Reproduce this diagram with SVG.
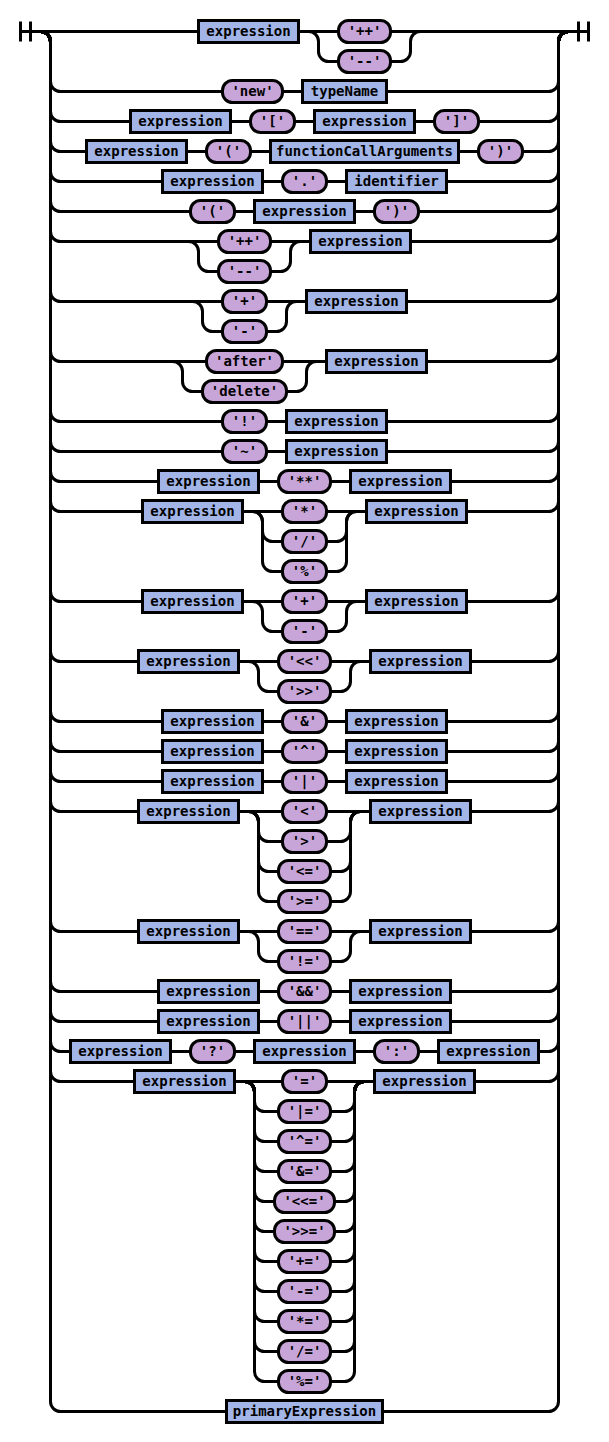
<svg xmlns="http://www.w3.org/2000/svg" width="609" height="1442" viewBox="0 0 609 1442">
<style>
path{fill:none;stroke:#000;stroke-width:3}
rect{stroke:#000;stroke-width:3}
.n rect{fill:#a2b5e6}
.t rect{fill:#c8a5d8}
text{font-family:"DejaVu Sans Mono","Liberation Mono",monospace;font-weight:bold;font-size:14px;text-anchor:middle;fill:#000}
</style>
<g transform="translate(.5 .5)">
<g id="connectors">
<path d="M20 21v20M30 21v20M20 31H588M578 21v20M588 21v20"/>
<path d="M40 31a10 10 0 0 1 10 10V81a10 10 0 0 0 10 10H548a10 10 0 0 0 10 -10V41a10 10 0 0 1 10 -10"/>
<path d="M40 31a10 10 0 0 1 10 10V111a10 10 0 0 0 10 10H548a10 10 0 0 0 10 -10V41a10 10 0 0 1 10 -10"/>
<path d="M40 31a10 10 0 0 1 10 10V141a10 10 0 0 0 10 10H548a10 10 0 0 0 10 -10V41a10 10 0 0 1 10 -10"/>
<path d="M40 31a10 10 0 0 1 10 10V171a10 10 0 0 0 10 10H548a10 10 0 0 0 10 -10V41a10 10 0 0 1 10 -10"/>
<path d="M40 31a10 10 0 0 1 10 10V201a10 10 0 0 0 10 10H548a10 10 0 0 0 10 -10V41a10 10 0 0 1 10 -10"/>
<path d="M40 31a10 10 0 0 1 10 10V231a10 10 0 0 0 10 10H548a10 10 0 0 0 10 -10V41a10 10 0 0 1 10 -10"/>
<path d="M40 31a10 10 0 0 1 10 10V291a10 10 0 0 0 10 10H548a10 10 0 0 0 10 -10V41a10 10 0 0 1 10 -10"/>
<path d="M40 31a10 10 0 0 1 10 10V351a10 10 0 0 0 10 10H548a10 10 0 0 0 10 -10V41a10 10 0 0 1 10 -10"/>
<path d="M40 31a10 10 0 0 1 10 10V411a10 10 0 0 0 10 10H548a10 10 0 0 0 10 -10V41a10 10 0 0 1 10 -10"/>
<path d="M40 31a10 10 0 0 1 10 10V441a10 10 0 0 0 10 10H548a10 10 0 0 0 10 -10V41a10 10 0 0 1 10 -10"/>
<path d="M40 31a10 10 0 0 1 10 10V471a10 10 0 0 0 10 10H548a10 10 0 0 0 10 -10V41a10 10 0 0 1 10 -10"/>
<path d="M40 31a10 10 0 0 1 10 10V501a10 10 0 0 0 10 10H548a10 10 0 0 0 10 -10V41a10 10 0 0 1 10 -10"/>
<path d="M40 31a10 10 0 0 1 10 10V591a10 10 0 0 0 10 10H548a10 10 0 0 0 10 -10V41a10 10 0 0 1 10 -10"/>
<path d="M40 31a10 10 0 0 1 10 10V651a10 10 0 0 0 10 10H548a10 10 0 0 0 10 -10V41a10 10 0 0 1 10 -10"/>
<path d="M40 31a10 10 0 0 1 10 10V711a10 10 0 0 0 10 10H548a10 10 0 0 0 10 -10V41a10 10 0 0 1 10 -10"/>
<path d="M40 31a10 10 0 0 1 10 10V741a10 10 0 0 0 10 10H548a10 10 0 0 0 10 -10V41a10 10 0 0 1 10 -10"/>
<path d="M40 31a10 10 0 0 1 10 10V771a10 10 0 0 0 10 10H548a10 10 0 0 0 10 -10V41a10 10 0 0 1 10 -10"/>
<path d="M40 31a10 10 0 0 1 10 10V801a10 10 0 0 0 10 10H548a10 10 0 0 0 10 -10V41a10 10 0 0 1 10 -10"/>
<path d="M40 31a10 10 0 0 1 10 10V921a10 10 0 0 0 10 10H548a10 10 0 0 0 10 -10V41a10 10 0 0 1 10 -10"/>
<path d="M40 31a10 10 0 0 1 10 10V981a10 10 0 0 0 10 10H548a10 10 0 0 0 10 -10V41a10 10 0 0 1 10 -10"/>
<path d="M40 31a10 10 0 0 1 10 10V1011a10 10 0 0 0 10 10H548a10 10 0 0 0 10 -10V41a10 10 0 0 1 10 -10"/>
<path d="M40 31a10 10 0 0 1 10 10V1041a10 10 0 0 0 10 10H548a10 10 0 0 0 10 -10V41a10 10 0 0 1 10 -10"/>
<path d="M40 31a10 10 0 0 1 10 10V1071a10 10 0 0 0 10 10H548a10 10 0 0 0 10 -10V41a10 10 0 0 1 10 -10"/>
<path d="M40 31a10 10 0 0 1 10 10V1401a10 10 0 0 0 10 10H548a10 10 0 0 0 10 -10V41a10 10 0 0 1 10 -10"/>
<path d="M308 31a10 10 0 0 1 10 10V51a10 10 0 0 0 10 10H400a10 10 0 0 0 10 -10V41a10 10 0 0 1 10 -10"/>
<path d="M188 241a10 10 0 0 1 10 10V261a10 10 0 0 0 10 10H280a10 10 0 0 0 10 -10V251a10 10 0 0 1 10 -10"/>
<path d="M192 301a10 10 0 0 1 10 10V321a10 10 0 0 0 10 10H276a10 10 0 0 0 10 -10V311a10 10 0 0 1 10 -10"/>
<path d="M172 361a10 10 0 0 1 10 10V381a10 10 0 0 0 10 10H296a10 10 0 0 0 10 -10V371a10 10 0 0 1 10 -10"/>
<path d="M252 511a10 10 0 0 1 10 10V531a10 10 0 0 0 10 10H336a10 10 0 0 0 10 -10V521a10 10 0 0 1 10 -10"/>
<path d="M252 511a10 10 0 0 1 10 10V561a10 10 0 0 0 10 10H336a10 10 0 0 0 10 -10V521a10 10 0 0 1 10 -10"/>
<path d="M252 601a10 10 0 0 1 10 10V621a10 10 0 0 0 10 10H336a10 10 0 0 0 10 -10V611a10 10 0 0 1 10 -10"/>
<path d="M248 661a10 10 0 0 1 10 10V681a10 10 0 0 0 10 10H340a10 10 0 0 0 10 -10V671a10 10 0 0 1 10 -10"/>
<path d="M248 811a10 10 0 0 1 10 10V831a10 10 0 0 0 10 10H340a10 10 0 0 0 10 -10V821a10 10 0 0 1 10 -10"/>
<path d="M248 811a10 10 0 0 1 10 10V861a10 10 0 0 0 10 10H340a10 10 0 0 0 10 -10V821a10 10 0 0 1 10 -10"/>
<path d="M248 811a10 10 0 0 1 10 10V891a10 10 0 0 0 10 10H340a10 10 0 0 0 10 -10V821a10 10 0 0 1 10 -10"/>
<path d="M248 931a10 10 0 0 1 10 10V951a10 10 0 0 0 10 10H340a10 10 0 0 0 10 -10V941a10 10 0 0 1 10 -10"/>
<path d="M244 1081a10 10 0 0 1 10 10V1101a10 10 0 0 0 10 10H344a10 10 0 0 0 10 -10V1091a10 10 0 0 1 10 -10"/>
<path d="M244 1081a10 10 0 0 1 10 10V1131a10 10 0 0 0 10 10H344a10 10 0 0 0 10 -10V1091a10 10 0 0 1 10 -10"/>
<path d="M244 1081a10 10 0 0 1 10 10V1161a10 10 0 0 0 10 10H344a10 10 0 0 0 10 -10V1091a10 10 0 0 1 10 -10"/>
<path d="M244 1081a10 10 0 0 1 10 10V1191a10 10 0 0 0 10 10H344a10 10 0 0 0 10 -10V1091a10 10 0 0 1 10 -10"/>
<path d="M244 1081a10 10 0 0 1 10 10V1221a10 10 0 0 0 10 10H344a10 10 0 0 0 10 -10V1091a10 10 0 0 1 10 -10"/>
<path d="M244 1081a10 10 0 0 1 10 10V1251a10 10 0 0 0 10 10H344a10 10 0 0 0 10 -10V1091a10 10 0 0 1 10 -10"/>
<path d="M244 1081a10 10 0 0 1 10 10V1281a10 10 0 0 0 10 10H344a10 10 0 0 0 10 -10V1091a10 10 0 0 1 10 -10"/>
<path d="M244 1081a10 10 0 0 1 10 10V1311a10 10 0 0 0 10 10H344a10 10 0 0 0 10 -10V1091a10 10 0 0 1 10 -10"/>
<path d="M244 1081a10 10 0 0 1 10 10V1341a10 10 0 0 0 10 10H344a10 10 0 0 0 10 -10V1091a10 10 0 0 1 10 -10"/>
<path d="M244 1081a10 10 0 0 1 10 10V1371a10 10 0 0 0 10 10H344a10 10 0 0 0 10 -10V1091a10 10 0 0 1 10 -10"/>
</g>
<g id="r1-expr" class="n"><rect x="198" y="20" width="100" height="22"/><text x="248" y="35">expression</text></g>
<g id="r1-inc" class="t"><rect x="338" y="20" width="52" height="22" rx="10"/><text x="364" y="35">'++'</text></g>
<g id="r1-dec" class="t"><rect x="338" y="50" width="52" height="22" rx="10"/><text x="364" y="65">'--'</text></g>
<g id="r2-new" class="t"><rect x="222" y="80" width="60" height="22" rx="10"/><text x="252" y="95">'new'</text></g>
<g id="r2-typeName" class="n"><rect x="302" y="80" width="84" height="22"/><text x="344" y="95">typeName</text></g>
<g id="r3-expr1" class="n"><rect x="130" y="110" width="100" height="22"/><text x="180" y="125">expression</text></g>
<g id="r3-lbr" class="t"><rect x="250" y="110" width="44" height="22" rx="10"/><text x="272" y="125">'['</text></g>
<g id="r3-expr2" class="n"><rect x="314" y="110" width="100" height="22"/><text x="364" y="125">expression</text></g>
<g id="r3-rbr" class="t"><rect x="434" y="110" width="44" height="22" rx="10"/><text x="456" y="125">']'</text></g>
<g id="r4-expr" class="n"><rect x="86" y="140" width="100" height="22"/><text x="136" y="155">expression</text></g>
<g id="r4-lp" class="t"><rect x="206" y="140" width="44" height="22" rx="10"/><text x="228" y="155">'('</text></g>
<g id="r4-args" class="n"><rect x="270" y="140" width="188" height="22"/><text x="364" y="155">functionCallArguments</text></g>
<g id="r4-rp" class="t"><rect x="478" y="140" width="44" height="22" rx="10"/><text x="500" y="155">')'</text></g>
<g id="r5-expr" class="n"><rect x="162" y="170" width="100" height="22"/><text x="212" y="185">expression</text></g>
<g id="r5-dot" class="t"><rect x="282" y="170" width="44" height="22" rx="10"/><text x="304" y="185">'.'</text></g>
<g id="r5-id" class="n"><rect x="346" y="170" width="100" height="22"/><text x="396" y="185">identifier</text></g>
<g id="r6-lp" class="t"><rect x="190" y="200" width="44" height="22" rx="10"/><text x="212" y="215">'('</text></g>
<g id="r6-expr" class="n"><rect x="254" y="200" width="100" height="22"/><text x="304" y="215">expression</text></g>
<g id="r6-rp" class="t"><rect x="374" y="200" width="44" height="22" rx="10"/><text x="396" y="215">')'</text></g>
<g id="r7-inc" class="t"><rect x="218" y="230" width="52" height="22" rx="10"/><text x="244" y="245">'++'</text></g>
<g id="r7-dec" class="t"><rect x="218" y="260" width="52" height="22" rx="10"/><text x="244" y="275">'--'</text></g>
<g id="r7-expr" class="n"><rect x="310" y="230" width="100" height="22"/><text x="360" y="245">expression</text></g>
<g id="r8-plus" class="t"><rect x="222" y="290" width="44" height="22" rx="10"/><text x="244" y="305">'+'</text></g>
<g id="r8-minus" class="t"><rect x="222" y="320" width="44" height="22" rx="10"/><text x="244" y="335">'-'</text></g>
<g id="r8-expr" class="n"><rect x="306" y="290" width="100" height="22"/><text x="356" y="305">expression</text></g>
<g id="r9-after" class="t"><rect x="206" y="350" width="76" height="22" rx="10"/><text x="244" y="365">'after'</text></g>
<g id="r9-delete" class="t"><rect x="202" y="380" width="84" height="22" rx="10"/><text x="244" y="395">'delete'</text></g>
<g id="r9-expr" class="n"><rect x="326" y="350" width="100" height="22"/><text x="376" y="365">expression</text></g>
<g id="r10-not" class="t"><rect x="222" y="410" width="44" height="22" rx="10"/><text x="244" y="425">'!'</text></g>
<g id="r10-expr" class="n"><rect x="286" y="410" width="100" height="22"/><text x="336" y="425">expression</text></g>
<g id="r11-tilde" class="t"><rect x="222" y="440" width="44" height="22" rx="10"/><text x="244" y="455">'~'</text></g>
<g id="r11-expr" class="n"><rect x="286" y="440" width="100" height="22"/><text x="336" y="455">expression</text></g>
<g id="r12-expr1" class="n"><rect x="158" y="470" width="100" height="22"/><text x="208" y="485">expression</text></g>
<g id="r12-pow" class="t"><rect x="278" y="470" width="52" height="22" rx="10"/><text x="304" y="485">'**'</text></g>
<g id="r12-expr2" class="n"><rect x="350" y="470" width="100" height="22"/><text x="400" y="485">expression</text></g>
<g id="r13-expr1" class="n"><rect x="142" y="500" width="100" height="22"/><text x="192" y="515">expression</text></g>
<g id="r13-mul" class="t"><rect x="282" y="500" width="44" height="22" rx="10"/><text x="304" y="515">'*'</text></g>
<g id="r13-div" class="t"><rect x="282" y="530" width="44" height="22" rx="10"/><text x="304" y="545">'/'</text></g>
<g id="r13-mod" class="t"><rect x="282" y="560" width="44" height="22" rx="10"/><text x="304" y="575">'%'</text></g>
<g id="r13-expr2" class="n"><rect x="366" y="500" width="100" height="22"/><text x="416" y="515">expression</text></g>
<g id="r14-expr1" class="n"><rect x="142" y="590" width="100" height="22"/><text x="192" y="605">expression</text></g>
<g id="r14-plus" class="t"><rect x="282" y="590" width="44" height="22" rx="10"/><text x="304" y="605">'+'</text></g>
<g id="r14-minus" class="t"><rect x="282" y="620" width="44" height="22" rx="10"/><text x="304" y="635">'-'</text></g>
<g id="r14-expr2" class="n"><rect x="366" y="590" width="100" height="22"/><text x="416" y="605">expression</text></g>
<g id="r15-expr1" class="n"><rect x="138" y="650" width="100" height="22"/><text x="188" y="665">expression</text></g>
<g id="r15-shl" class="t"><rect x="278" y="650" width="52" height="22" rx="10"/><text x="304" y="665">'&lt;&lt;'</text></g>
<g id="r15-shr" class="t"><rect x="278" y="680" width="52" height="22" rx="10"/><text x="304" y="695">'&gt;&gt;'</text></g>
<g id="r15-expr2" class="n"><rect x="370" y="650" width="100" height="22"/><text x="420" y="665">expression</text></g>
<g id="r16-expr1" class="n"><rect x="162" y="710" width="100" height="22"/><text x="212" y="725">expression</text></g>
<g id="r16-and" class="t"><rect x="282" y="710" width="44" height="22" rx="10"/><text x="304" y="725">'&amp;'</text></g>
<g id="r16-expr2" class="n"><rect x="346" y="710" width="100" height="22"/><text x="396" y="725">expression</text></g>
<g id="r17-expr1" class="n"><rect x="162" y="740" width="100" height="22"/><text x="212" y="755">expression</text></g>
<g id="r17-xor" class="t"><rect x="282" y="740" width="44" height="22" rx="10"/><text x="304" y="755">'^'</text></g>
<g id="r17-expr2" class="n"><rect x="346" y="740" width="100" height="22"/><text x="396" y="755">expression</text></g>
<g id="r18-expr1" class="n"><rect x="162" y="770" width="100" height="22"/><text x="212" y="785">expression</text></g>
<g id="r18-or" class="t"><rect x="282" y="770" width="44" height="22" rx="10"/><text x="304" y="785">'|'</text></g>
<g id="r18-expr2" class="n"><rect x="346" y="770" width="100" height="22"/><text x="396" y="785">expression</text></g>
<g id="r19-expr1" class="n"><rect x="138" y="800" width="100" height="22"/><text x="188" y="815">expression</text></g>
<g id="r19-lt" class="t"><rect x="282" y="800" width="44" height="22" rx="10"/><text x="304" y="815">'&lt;'</text></g>
<g id="r19-gt" class="t"><rect x="282" y="830" width="44" height="22" rx="10"/><text x="304" y="845">'&gt;'</text></g>
<g id="r19-le" class="t"><rect x="278" y="860" width="52" height="22" rx="10"/><text x="304" y="875">'&lt;='</text></g>
<g id="r19-ge" class="t"><rect x="278" y="890" width="52" height="22" rx="10"/><text x="304" y="905">'&gt;='</text></g>
<g id="r19-expr2" class="n"><rect x="370" y="800" width="100" height="22"/><text x="420" y="815">expression</text></g>
<g id="r20-expr1" class="n"><rect x="138" y="920" width="100" height="22"/><text x="188" y="935">expression</text></g>
<g id="r20-eq" class="t"><rect x="278" y="920" width="52" height="22" rx="10"/><text x="304" y="935">'=='</text></g>
<g id="r20-ne" class="t"><rect x="278" y="950" width="52" height="22" rx="10"/><text x="304" y="965">'!='</text></g>
<g id="r20-expr2" class="n"><rect x="370" y="920" width="100" height="22"/><text x="420" y="935">expression</text></g>
<g id="r21-expr1" class="n"><rect x="158" y="980" width="100" height="22"/><text x="208" y="995">expression</text></g>
<g id="r21-land" class="t"><rect x="278" y="980" width="52" height="22" rx="10"/><text x="304" y="995">'&amp;&amp;'</text></g>
<g id="r21-expr2" class="n"><rect x="350" y="980" width="100" height="22"/><text x="400" y="995">expression</text></g>
<g id="r22-expr1" class="n"><rect x="158" y="1010" width="100" height="22"/><text x="208" y="1025">expression</text></g>
<g id="r22-lor" class="t"><rect x="278" y="1010" width="52" height="22" rx="10"/><text x="304" y="1025">'||'</text></g>
<g id="r22-expr2" class="n"><rect x="350" y="1010" width="100" height="22"/><text x="400" y="1025">expression</text></g>
<g id="r23-expr1" class="n"><rect x="70" y="1040" width="100" height="22"/><text x="120" y="1055">expression</text></g>
<g id="r23-q" class="t"><rect x="190" y="1040" width="44" height="22" rx="10"/><text x="212" y="1055">'?'</text></g>
<g id="r23-expr2" class="n"><rect x="254" y="1040" width="100" height="22"/><text x="304" y="1055">expression</text></g>
<g id="r23-colon" class="t"><rect x="374" y="1040" width="44" height="22" rx="10"/><text x="396" y="1055">':'</text></g>
<g id="r23-expr3" class="n"><rect x="438" y="1040" width="100" height="22"/><text x="488" y="1055">expression</text></g>
<g id="r24-expr1" class="n"><rect x="134" y="1070" width="100" height="22"/><text x="184" y="1085">expression</text></g>
<g id="r24-assign" class="t"><rect x="282" y="1070" width="44" height="22" rx="10"/><text x="304" y="1085">'='</text></g>
<g id="r24-or" class="t"><rect x="278" y="1100" width="52" height="22" rx="10"/><text x="304" y="1115">'|='</text></g>
<g id="r24-xor" class="t"><rect x="278" y="1130" width="52" height="22" rx="10"/><text x="304" y="1145">'^='</text></g>
<g id="r24-and" class="t"><rect x="278" y="1160" width="52" height="22" rx="10"/><text x="304" y="1175">'&amp;='</text></g>
<g id="r24-shl" class="t"><rect x="274" y="1190" width="60" height="22" rx="10"/><text x="304" y="1205">'&lt;&lt;='</text></g>
<g id="r24-shr" class="t"><rect x="274" y="1220" width="60" height="22" rx="10"/><text x="304" y="1235">'&gt;&gt;='</text></g>
<g id="r24-add" class="t"><rect x="278" y="1250" width="52" height="22" rx="10"/><text x="304" y="1265">'+='</text></g>
<g id="r24-sub" class="t"><rect x="278" y="1280" width="52" height="22" rx="10"/><text x="304" y="1295">'-='</text></g>
<g id="r24-mul" class="t"><rect x="278" y="1310" width="52" height="22" rx="10"/><text x="304" y="1325">'*='</text></g>
<g id="r24-div" class="t"><rect x="278" y="1340" width="52" height="22" rx="10"/><text x="304" y="1355">'/='</text></g>
<g id="r24-mod" class="t"><rect x="278" y="1370" width="52" height="22" rx="10"/><text x="304" y="1385">'%='</text></g>
<g id="r24-expr2" class="n"><rect x="374" y="1070" width="100" height="22"/><text x="424" y="1085">expression</text></g>
<g id="r25-primary" class="n"><rect x="226" y="1400" width="156" height="22"/><text x="304" y="1415">primaryExpression</text></g>
</g>
</svg>
